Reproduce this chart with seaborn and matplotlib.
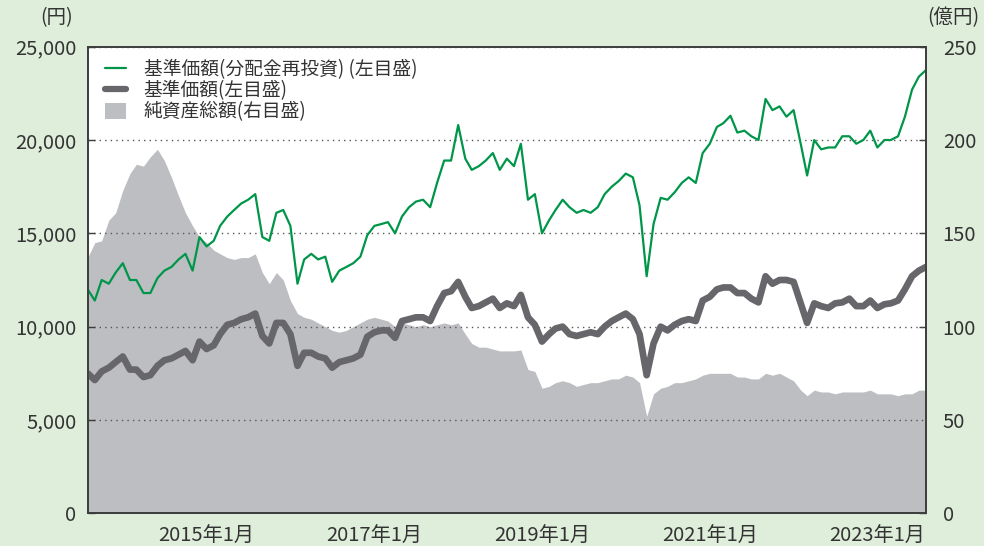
import numpy as np
import pandas as pd
import matplotlib
matplotlib.use("Agg")
import matplotlib.pyplot as plt
from matplotlib.lines import Line2D
from matplotlib.patches import Patch
import seaborn as sns

# monthly readings, 2013-08 .. 2023-08
# 基準価額(分配金再投資), 円
nav_reinvest = [
    12000, 11400, 12500, 12300, 12900, 13400, 12500, 12500, 11800, 11800,
    12600, 13000, 13200, 13600, 13900, 13000, 14800, 14300, 14600, 15400,
    15900, 16250, 16600, 16800, 17100, 14800, 14600, 16100, 16250, 15400,
    12300, 13600, 13900, 13600, 13750, 12400, 13000, 13200, 13400, 13750,
    14900, 15400, 15500, 15600, 15000, 15900, 16400, 16700, 16800, 16400,
    17700, 18900, 18900, 20800, 19000, 18400, 18600, 18900, 19300, 18400,
    19000, 18600, 19800, 16800, 17100, 15000, 15700, 16250, 16800, 16400,
    16100, 16250, 16100, 16400, 17100, 17500, 17800, 18200, 18000, 16500,
    12700, 15500, 16900, 16800, 17200, 17700, 18000, 17700, 19300, 19800,
    20700, 20900, 21300, 20400, 20500, 20200, 20000, 22200, 21600, 21800,
    21250, 21600, 19800, 18100, 20000, 19500, 19600, 19600, 20200, 20200,
    19800, 20000, 20500, 19600, 20000, 20000, 20200, 21250, 22700, 23400,
    23750,
]

# 基準価額, 円
nav = [
    7500, 7140, 7600, 7800, 8100, 8400, 7700, 7700, 7300, 7400,
    7900, 8200, 8300, 8500, 8700, 8200, 9200, 8800, 9000, 9600,
    10100, 10200, 10400, 10500, 10700, 9500, 9100, 10200, 10200, 9600,
    7900, 8600, 8600, 8400, 8300, 7800, 8100, 8200, 8300, 8500,
    9460, 9700, 9800, 9800, 9400, 10300, 10400, 10500, 10500, 10300,
    11100, 11800, 11900, 12400, 11600, 11000, 11100, 11300, 11500, 11000,
    11250, 11100, 11700, 10500, 10100, 9200, 9600, 9900, 10000, 9600,
    9500, 9600, 9700, 9600, 10000, 10300, 10500, 10700, 10400, 9600,
    7400, 9100, 10000, 9800, 10100, 10300, 10400, 10300, 11400, 11600,
    12000, 12100, 12100, 11800, 11800, 11500, 11300, 12700, 12300, 12500,
    12500, 12400, 11250, 10200, 11250, 11100, 11000, 11250, 11300, 11500,
    11100, 11100, 11400, 11000, 11200, 11250, 11400, 12000, 12700, 13000,
    13200,
]

# 純資産総額, 億円
net_assets = [
    137, 145, 146, 157, 161, 173, 182, 187, 186, 191,
    195, 189, 180, 170, 161, 154, 148, 145, 141, 139,
    137, 136, 137, 137, 139, 129, 123, 129, 125, 114,
    107, 105, 104, 102, 100, 98, 97, 98, 100, 102,
    104, 105, 104, 103, 100, 102, 101, 100, 101, 100,
    101, 102, 101, 102, 96, 91, 89, 89, 88, 87,
    87, 87, 87.5, 77, 76, 67, 68, 70, 71, 70,
    68, 69, 70, 70, 71, 72, 72, 74, 73, 70,
    52, 64, 67, 68, 70, 70, 71, 72, 74, 75,
    75, 75, 75, 73, 73, 72, 72, 75, 74, 75,
    73, 71, 66, 63, 66, 65, 65, 64, 65, 65,
    65, 65, 66, 64, 64, 64, 63, 64, 64, 66,
    66,
]

tick_years = [2015, 2017, 2019, 2021, 2023]
left_ticks = [0, 5000, 10000, 15000, 20000, 25000]
right_ticks = [0, 50, 100, 150, 200, 250]

labels = ["基準価額(分配金再投資) (左目盛)", "基準価額(左目盛)", "純資産総額(右目盛)"]

dates = pd.date_range("2013-08-01", periods=len(nav), freq="MS")
df = pd.DataFrame({"date": dates, "reinvest": nav_reinvest, "nav": nav, "assets": net_assets})

bg = "#dfeedb"
green = "#00964a"
dark = "#67676b"
area = "#bdbec2"
txt = "#333333"
edge = "#3c3c3c"

sns.set_theme(style="white")
plt.rcParams["font.family"] = ["Noto Sans CJK JP", "DejaVu Sans"]

fig = plt.figure(figsize=(9.84, 5.46), dpi=100, facecolor=bg)
ax = fig.add_axes([0.0891, 0.0599, 0.8520, 0.8546])
ax2 = ax.twinx()

# net assets area on the right axis, behind everything
ax2.fill_between(df["date"], df["assets"], color=area, lw=0)
ax2.set_ylim(0, 250)
ax2.set_yticks(right_ticks)
ax2.patch.set_visible(True)
ax2.patch.set_facecolor("white")
ax.set_zorder(ax2.get_zorder() + 1)
ax.patch.set_visible(False)

ax.yaxis.grid(True, linestyle=(0, (1, 3)), color="#555555", lw=1)
sns.lineplot(data=df, x="date", y="nav", ax=ax, color=dark, lw=4.8, legend=False)
sns.lineplot(data=df, x="date", y="reinvest", ax=ax, color=green, lw=1.6, legend=False)

ax.set_ylim(0, 25000)
ax.set_yticks(left_ticks)
ax.set_yticklabels([f"{v:,}" for v in left_ticks])
ax.set_xlim(pd.Timestamp("2013-08-01"), pd.Timestamp("2023-08-01"))
ax.set_xticks([pd.Timestamp(f"{y}-01-01") for y in tick_years])
ax.set_xticklabels([f"{y}年1月" for y in tick_years])
ax.set_xlabel("")
ax.set_ylabel("")

for a in (ax, ax2):
    for s in a.spines.values():
        s.set_color(edge)
        s.set_linewidth(1.2)
ax.tick_params(axis="y", direction="in", length=5, width=1, color=edge, labelsize=14.5, labelcolor=txt, pad=8)
ax.tick_params(axis="x", direction="in", length=7, width=1, color=edge, labelsize=14.5, labelcolor=txt, pad=9)
ax2.tick_params(axis="y", direction="in", length=5, width=1, color=edge, labelsize=14.5, labelcolor=txt, pad=12)

fig.text(57 / 984, 1 - 18 / 546, "(円)", ha="center", va="center", fontsize=14, color=txt)
fig.text(953 / 984, 1 - 18 / 546, "(億円)", ha="center", va="center", fontsize=14, color=txt)

handles = [
    Line2D([0], [0], color=green, lw=1.6),
    Line2D([0], [0], color=dark, lw=4.5),
    Patch(facecolor=area, edgecolor="none"),
]
ax.legend(handles, labels, loc="upper left", bbox_to_anchor=(0.003, 1.005), frameon=False,
          fontsize=13.5, handlelength=1.1, handleheight=0.9, labelspacing=0.0,
          handletextpad=0.95, borderpad=0.3, labelcolor=txt)

fig.savefig("out.png", dpi=100, facecolor=bg)
